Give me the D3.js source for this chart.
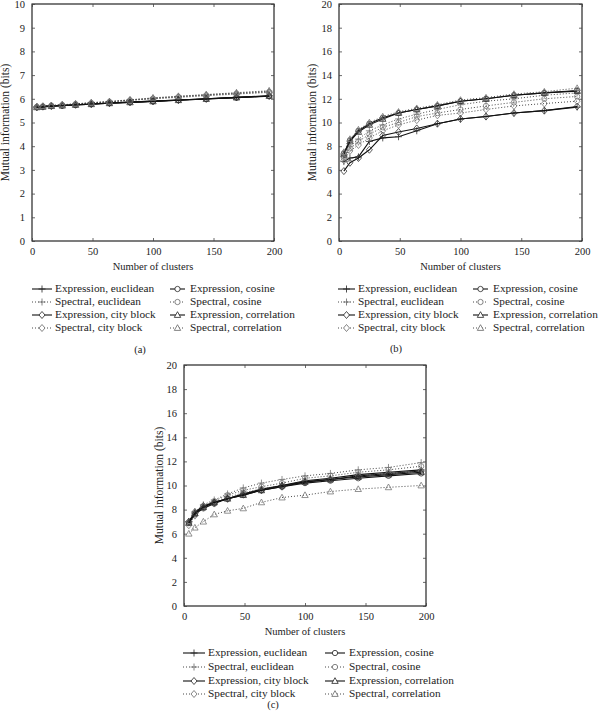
<!DOCTYPE html>
<html><head><meta charset="utf-8">
<script src="https://cdn.jsdelivr.net/npm/d3@7"></script>
<style>
body{margin:0;background:#fff;}
svg text{font-family:"Liberation Serif","Times New Roman","DejaVu Serif",serif;fill:#222;}
</style></head><body>
<svg id="chart" width="600" height="719"></svg>
<script>
// ---------- data ----------
const clusters = [4, 9, 16, 25, 36, 49, 64, 81, 100, 121, 144, 169, 196];
const seriesNames = ["Expression, euclidean","Spectral, euclidean","Expression, city block","Spectral, city block",
                     "Expression, cosine","Spectral, cosine","Expression, correlation","Spectral, correlation"];
const seriesMarkers = ["plus","plus","diamond","diamond","circle","circle","triangle","triangle"];
const seriesDotted = [false,true,false,true,false,true,false,true];
const xTicks = [0, 50, 100, 150, 200];
const yTicksA = [0,1,2,3,4,5,6,7,8,9,10];
const yTicksBC = [0,2,4,6,8,10,12,14,16,18,20];

// panel (a)
const a_exprEuclid   = [5.65,5.67,5.70,5.72,5.75,5.78,5.82,5.86,5.90,5.95,6.00,6.06,6.12];
const a_specEuclid   = [5.66,5.68,5.71,5.74,5.78,5.83,5.88,5.95,6.03,6.10,6.17,6.24,6.32];
const a_exprCity     = [5.65,5.67,5.70,5.72,5.75,5.78,5.82,5.86,5.90,5.95,6.00,6.06,6.13];
const a_specCity     = [5.66,5.68,5.71,5.74,5.77,5.82,5.87,5.93,6.00,6.06,6.13,6.20,6.27];
const a_exprCosine   = [5.64,5.66,5.69,5.71,5.74,5.77,5.81,5.85,5.89,5.94,5.99,6.05,6.11];
const a_specCosine   = [5.66,5.68,5.71,5.74,5.78,5.82,5.87,5.94,6.01,6.08,6.15,6.22,6.29];
const a_exprCorr     = [5.64,5.66,5.69,5.71,5.74,5.77,5.81,5.85,5.89,5.94,5.99,6.05,6.12];
const a_specCorr     = [5.67,5.69,5.72,5.75,5.79,5.84,5.89,5.96,6.04,6.11,6.18,6.26,6.34];

// panel (b)
const b_exprEuclid   = [6.7,7.0,7.1,8.4,8.7,8.8,9.3,9.9,10.3,10.5,10.8,11.0,11.3];
const b_specEuclid   = [7.2,8.0,8.6,9.3,9.8,10.3,10.7,11.1,11.5,11.8,12.0,12.3,12.5];
const b_exprCity     = [5.9,6.6,7.0,7.7,8.9,9.2,9.5,9.9,10.3,10.5,10.8,11.0,11.35];
const b_specCity     = [6.8,7.6,8.1,8.7,9.3,9.8,10.2,10.6,10.8,11.1,11.4,11.6,11.8];
const b_exprCosine   = [7.4,8.5,9.3,9.9,10.4,10.8,11.1,11.4,11.8,12.0,12.3,12.5,12.7];
const b_specCosine   = [7.0,7.8,8.4,9.0,9.6,10.0,10.5,10.8,11.1,11.4,11.7,12.0,12.2];
const b_exprCorr     = [7.3,8.4,9.2,9.8,10.3,10.8,11.1,11.4,11.8,12.0,12.3,12.5,12.65];
const b_specCorr     = [7.5,8.6,9.4,10.0,10.5,10.9,11.2,11.5,11.9,12.1,12.4,12.6,12.9];

// panel (c)
const c_exprEuclid   = [7.0,7.7,8.2,8.6,8.9,9.3,9.7,10.0,10.4,10.6,10.9,11.1,11.3];
const c_specEuclid   = [6.9,7.8,8.4,8.8,9.3,9.8,10.2,10.5,10.8,11.0,11.3,11.5,11.9];
const c_exprCity     = [7.0,7.8,8.3,8.6,8.9,9.3,9.6,9.9,10.3,10.5,10.8,11.0,11.2];
const c_specCity     = [6.7,7.5,8.2,8.5,9.0,9.4,9.7,10.0,10.3,10.5,10.8,11.0,11.2];
const c_exprCosine   = [6.9,7.6,8.1,8.5,8.9,9.2,9.6,9.9,10.2,10.4,10.6,10.8,11.0];
const c_specCosine   = [6.9,7.7,8.3,8.7,9.2,9.6,9.9,10.2,10.6,10.8,11.1,11.3,11.6];
const c_exprCorr     = [6.9,7.7,8.2,8.6,8.9,9.2,9.6,10.0,10.3,10.5,10.7,10.9,11.1];
const c_specCorr     = [6.0,6.5,7.0,7.6,7.9,8.1,8.6,9.0,9.2,9.5,9.7,9.85,10.0];

const panelA = [a_exprEuclid,a_specEuclid,a_exprCity,a_specCity,a_exprCosine,a_specCosine,a_exprCorr,a_specCorr];
const panelB = [b_exprEuclid,b_specEuclid,b_exprCity,b_specCity,b_exprCosine,b_specCosine,b_exprCorr,b_specCorr];
const panelC = [c_exprEuclid,c_specEuclid,c_exprCity,c_specCity,c_exprCosine,c_specCosine,c_exprCorr,c_specCorr];

// ---------- drawing ----------
const svg = d3.select("#chart");
const FONT = '"Liberation Serif","Times New Roman","DejaVu Serif",serif';

function markerPath(type){
  if(type==="plus") return "M-3.5,0H3.5M0,-3.5V3.5";
  if(type==="diamond") return "M0,-3.5L3,0L0,3.5L-3,0Z";
  if(type==="triangle") return "M0,-3.3L3.2,2.4L-3.2,2.4Z";
  return d3.symbol().type(d3.symbolCircle).size(22)();
}

function drawPanel(cfg){
  const g = svg.append("g");
  const x = d3.scaleLinear().domain([0,200]).range([cfg.x0,cfg.x1]);
  const y = d3.scaleLinear().domain([0,cfg.ymax]).range([cfg.y1,cfg.y0]);

  g.append("rect").attr("x",cfg.x0).attr("y",cfg.y0).attr("width",cfg.x1-cfg.x0).attr("height",cfg.y1-cfg.y0)
    .attr("fill","none").attr("stroke","#111").attr("stroke-width",1.1);

  const tickLen = 3;
  const xb = g.append("g").attr("transform",`translate(0,${cfg.y1})`)
    .call(d3.axisBottom(x).tickValues(xTicks).tickSizeInner(-tickLen).tickSizeOuter(0).tickPadding(7));
  const xt = g.append("g").attr("transform",`translate(0,${cfg.y0})`)
    .call(d3.axisTop(x).tickValues(xTicks).tickSizeInner(-tickLen).tickSizeOuter(0).tickFormat(""));
  const yl = g.append("g").attr("transform",`translate(${cfg.x0},0)`)
    .call(d3.axisLeft(y).tickValues(cfg.yTicks).tickSizeInner(-tickLen).tickSizeOuter(0).tickPadding(7));
  const yr = g.append("g").attr("transform",`translate(${cfg.x1},0)`)
    .call(d3.axisRight(y).tickValues(cfg.yTicks).tickSizeInner(-tickLen).tickSizeOuter(0).tickFormat(""));
  [xb,xt,yl,yr].forEach(a=>{
    a.attr("font-family",FONT);
    a.select(".domain").remove();
    a.selectAll("line").attr("stroke","#444").attr("stroke-width",0.8);
    a.selectAll("text").attr("font-size",10.5).attr("fill","#333").style("font-family",FONT);
  });

  g.append("text").attr("x",(cfg.x0+cfg.x1)/2).attr("y",cfg.y1+29).attr("text-anchor","middle")
    .attr("font-size",10.5).attr("fill","#333").text("Number of clusters");
  g.append("text").attr("transform",`translate(${cfg.titleX},${(cfg.y0+cfg.y1)/2}) rotate(-90)`)
    .attr("text-anchor","middle").attr("dominant-baseline","middle").attr("font-size",11.5)
    .attr("fill","#333").text("Mutual information (bits)");

  const line = d3.line().x((d,i)=>x(clusters[i])).y(d=>y(d));
  cfg.data.forEach((vals,si)=>{
    const dotted = seriesDotted[si];
    g.append("path").datum(vals).attr("d",line).attr("fill","none")
      .attr("stroke", dotted ? "#333" : "#111")
      .attr("stroke-width", dotted ? 0.9 : 1.1)
      .attr("stroke-dasharray", dotted ? "1,2" : null);
    g.selectAll(null).data(vals).enter().append("path")
      .attr("transform",(d,i)=>`translate(${x(clusters[i])},${y(d)})`)
      .attr("d",markerPath(seriesMarkers[si]))
      .attr("fill","none").attr("stroke", dotted ? "#777" : "#333").attr("stroke-width",0.8);
  });

  const cols = [{idx:[0,1,2,3],sx0:cfg.lg.l0,sx1:cfg.lg.l1,tx:cfg.lg.lt},{idx:[4,5,6,7],sx0:cfg.lg.r0,sx1:cfg.lg.r1,tx:cfg.lg.rt}];
  cols.forEach(c=>{
    c.idx.forEach((si,row)=>{
      const ry = cfg.lg.rows[row];
      const dotted = seriesDotted[si];
      g.append("line").attr("x1",c.sx0).attr("x2",c.sx1).attr("y1",ry).attr("y2",ry)
        .attr("stroke",dotted?"#333":"#111").attr("stroke-width",dotted?0.9:1.1)
        .attr("stroke-dasharray",dotted?"1,2":null);
      g.append("path").attr("transform",`translate(${(c.sx0+c.sx1)/2},${ry})`)
        .attr("d",markerPath(seriesMarkers[si])).attr("fill","#fff")
        .attr("stroke",dotted?"#666":"#222").attr("stroke-width",0.8);
      g.append("text").attr("x",c.tx).attr("y",ry+0.5).attr("dominant-baseline","middle")
        .attr("font-size",11.3).attr("fill","#333").text(seriesNames[si]);
    });
  });

  g.append("text").attr("x",cfg.labelX).attr("y",cfg.labelY).attr("text-anchor","middle")
    .attr("dominant-baseline","middle").attr("font-size",10.5).attr("fill","#333").text(cfg.label);
}

drawPanel({x0:32,x1:274,y0:4,y1:241,ymax:10,yTicks:yTicksA,data:panelA,titleX:6,
  lg:{l0:32,l1:52,lt:55,r0:170,r1:185,rt:190,rows:[289,302,315,328]},label:"(a)",labelX:140,labelY:351});
drawPanel({x0:339,x1:582,y0:4,y1:241,ymax:20,yTicks:yTicksBC,data:panelB,titleX:313,
  lg:{l0:338,l1:355,lt:358,r0:473,r1:488,rt:493,rows:[289,302,315,328]},label:"(b)",labelX:396,labelY:350});
drawPanel({x0:184,x1:426,y0:365,y1:606,ymax:20,yTicks:yTicksBC,data:panelC,titleX:160,
  lg:{l0:183,l1:205,lt:208,r0:325,r1:345,rt:349,rows:[653,667,681,694]},label:"(c)",labelX:273,labelY:706});
</script>
</body></html>
